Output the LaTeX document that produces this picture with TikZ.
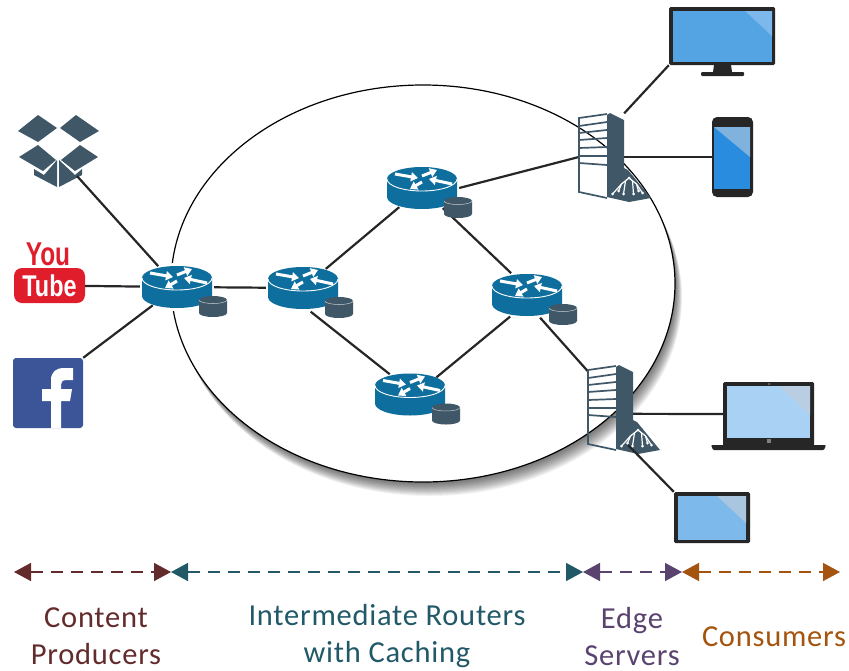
\documentclass[tikz,border=0pt]{standalone}
\usepackage{fontspec}
\usetikzlibrary{arrows.meta, shapes.geometric}
\newfontfamily\capfont[LetterSpace=2.5]{Carlito}
\newfontfamily\tubefont{Liberation Sans}
\definecolor{slate}{RGB}{63, 87, 102}
\definecolor{cisco}{RGB}{14, 110, 158}
\definecolor{frame}{RGB}{38, 38, 38}
\definecolor{tubered}{RGB}{224, 30, 43}
\definecolor{fbblue}{RGB}{59, 85, 152}
\definecolor{prodcol}{RGB}{99, 43, 43}
\definecolor{routcol}{RGB}{33, 89, 104}
\definecolor{edgecol}{RGB}{91, 67, 112}
\definecolor{conscol}{RGB}{165, 84, 15}
\definecolor{monscreen}{RGB}{84, 163, 227}
\definecolor{monglare}{RGB}{125, 184, 236}
\definecolor{phonescreen}{RGB}{42, 140, 223}
\definecolor{phoneglare}{RGB}{127, 178, 221}
\definecolor{lapscreen}{RGB}{169, 209, 243}
\definecolor{lapglare}{RGB}{185, 206, 226}
\definecolor{tabscreen}{RGB}{125, 185, 234}
\definecolor{tabglare}{RGB}{169, 197, 223}
\tikzset{
  halo/.style={ellipse, fill=white, inner sep=0, minimum width=74, minimum height=48},
  link/.style={color=frame, line width=2.2},
  span/.style={line width=1.5, dash pattern=on 12pt off 8pt,
               {Triangle[length=17pt, width=18pt]}-{Triangle[length=17pt, width=18pt]}},
  device/.style={fill=frame, rounded corners=1.5, inner sep=0},
  marker/.style={font=\capfont\fontsize{30.5}{37}\selectfont, align=center},
  router/.pic={
    \fill [color=cisco] (-35, -9) -- (-35, 9) arc[start angle=180, end angle=0, x radius=35, y radius=12]
                        -- (35, -9) arc[start angle=0, end angle=-180, x radius=35, y radius=12] -- cycle;
    \draw [color=white, line width=0.9] (-35, -9) arc[start angle=180, end angle=0, x radius=35, y radius=12];
    \foreach \ax/\ay/\bx/\by in {-27/-14/-4/-10, 0/-6/-12/1, 0/-12/15/-18, 30/-4/7/-9}
      \draw [color=white, line width=3, -{Triangle[length=7pt, width=9pt]}] (\ax, \ay) -- (\bx, \by);
    \fill [color=slate] (22, 13) -- (22, 26) arc[start angle=180, end angle=0, x radius=14, y radius=4]
                        -- (50, 13) arc[start angle=0, end angle=-180, x radius=14, y radius=4] -- cycle;
    \draw [color=white!70!slate, line width=0.5] (22, 13) arc[start angle=180, end angle=0, x radius=14, y radius=3.5];
  },
  server/.pic={
    \draw [color=slate, line width=1.7] (5.5, -43) -- (-22.5, -39) -- (-22.5, 35) -- (5.5, 41);
    \foreach \ly/\ry in {-31/-35, -24/-27, -17/-19, -9/-10, -1/-1, 6/8}
      \draw [color=slate, line width=1.7] (-22.5, \ly) -- (5.5, \ry);
    \fill [color=slate] (5.5, -42) -- (8.5, -44) -- (22.5, -37) -- (22.5, 11) -- (26.5, 13)
                        -- (49.5, 41) -- (27.5, 45) -- (5.5, 40) -- cycle;
    \draw [color=white, line width=1.2] (27.5, 21) -- (20, 27) -- (11, 37);
    \draw [color=white, line width=1.2] (27.5, 21) -- (35, 27) -- (41, 36);
    \draw [color=white, line width=1.2] (24, 24) -- (22, 37);
    \draw [color=white, line width=1.2] (31, 24) -- (32, 37);
    \draw [color=white, line width=1.2] (20, 27) -- (17, 34);
    \draw [color=white, line width=1.2] (35, 27) -- (37, 34);
    \foreach \tx/\ty in {27.5/21, 11/37, 17/34, 22/37, 32/37, 37/34, 41/36}
      \fill [color=white] (\tx, \ty) circle (1.5);
  }
}

\begin{document}
\begin{tikzpicture}[x=1pt, y=-1pt]

  \useasboundingbox (0, 0) rectangle (849, 670);

  % the cloud of caching routers
  \foreach \off in {14, 13, ..., 1}
    \fill [color=black, opacity=0.05] (423+0.5*\off, 283.5+\off) ellipse [x radius=252, y radius=198.5];
  \draw [fill=white, line width=1.2] (423, 283.5) ellipse [x radius=252, y radius=198.5];

  % producers
  \node [rectangle, rounded corners=8, fill=tubered, text=white, minimum width=71, minimum height=35, inner sep=0,
         font=\tubefont\bfseries\fontsize{30}{30}\selectfont] (tube) at (49.5, 285.5) {\scalebox{0.78}[1]{Tube}};
  \node [text=tubered, inner sep=0, font=\tubefont\bfseries\fontsize{33}{33}\selectfont] (you) at (48, 254) {\scalebox{0.74}[1]{You}};
  \node [rectangle, rounded corners=3, fill=fbblue, minimum size=70, inner sep=0] (fbook) at (48, 393) {};
  \coordinate (dropbox) at (77, 176);

  \fill [color=white] (51, 428) -- (51, 401) -- (42, 401) -- (42, 389) -- (51, 389) -- (51, 380)
                      .. controls (51, 372) and (56, 368) .. (64, 368) -- (73, 368) -- (73, 380) -- (67, 380)
                      .. controls (62, 380) and (61, 382) .. (61, 385) -- (61, 389) -- (72, 389) -- (70, 401)
                      -- (61, 401) -- (61, 428) -- cycle;

  \fill [color=slate] (18, 131) -- (38, 115) -- (57, 128) -- (38, 142) -- cycle;
  \fill [color=slate] (60, 128) -- (76, 115) -- (99, 131) -- (80, 142) -- cycle;
  \fill [color=slate] (19, 157) -- (38, 145) -- (56, 160) -- (43, 171) -- cycle;
  \fill [color=slate] (61, 160) -- (80, 145) -- (98, 157) -- (75, 171) -- cycle;
  \fill [color=slate] (34, 169) -- (44, 175) -- (57, 160) -- (57, 187) -- (34, 175) -- cycle;
  \fill [color=slate] (59, 160) -- (75, 175) -- (82, 169) -- (82, 175) -- (59, 187) -- cycle;

  % routers and servers
  \node [inner sep=0, minimum width=45, minimum height=87] (sOne) at (601.5, 157) {};
  \node [inner sep=0, minimum width=45, minimum height=87] (sTwo) at (610.5, 409) {};

  \node [halo] (rOne) at (177, 287) {};
  \node [halo] (rTwo) at (303, 288) {};
  \node [halo] (rThree) at (422, 188) {};
  \node [halo] (rFour) at (527, 295) {};
  \node [halo] (rFive) at (410, 394.5) {};

  % consumers
  \node [device, minimum width=106, minimum height=58] (monitor) at (722, 36) {};
  \node [device, rounded corners=5, minimum width=41, minimum height=80] (phone) at (732.5, 157) {};
  \node [device, minimum width=91, minimum height=64] (laptop) at (768.5, 414) {};
  \node [device, minimum width=76, minimum height=51] (tablet) at (712, 517.5) {};

  \draw [link] (dropbox) -- (rOne);
  \draw [link] (tube) -- (rOne);
  \draw [link] (fbook.north east) -- (rOne);
  \draw [link] (rOne) -- (rTwo);
  \draw [link] (rTwo) -- (rThree);
  \draw [link] (rTwo.-72) -- (rFive.135);
  \draw [link] (rThree.-44) -- (rFour.126);
  \draw [link] (rFive.33) -- (rFour.-128);
  \draw [link] (rThree.east) -- (sOne.west);
  \draw [link] (rFour.-60) -- (sTwo.121);
  \draw [link] (sOne.north east) -- (monitor.south west);
  \draw [link] (sOne.east) -- (phone.west);
  \draw [link] (sTwo.-12.5) -- (laptop.west);

  \foreach \name in {rOne, rTwo, rThree, rFour, rFive}
    \pic at (\name) {router};
  \pic at (sOne) {server};
  \pic at (sTwo) {server};

  \coordinate (tabletStart) at (628, 445);
  \draw [link] (tabletStart) -- (tablet.north west);

  % screens
  \fill [color=frame] (714, 65) -- (731, 65) -- (732, 72) -- (713, 72) -- cycle;
  \fill [color=frame, rounded corners=1] (701, 72) -- (744, 72) -- (744, 76) -- (701, 76) -- cycle;
  \fill [color=monscreen] (673, 11) rectangle (772, 62);
  \fill [color=monglare] (745, 11) -- (772, 11) -- (772, 36) -- cycle;

  \fill [color=phonescreen] (714, 127) rectangle (750, 189);
  \fill [color=phoneglare] (714, 127) -- (750, 127) -- (750, 157) -- cycle;

  \fill [color=frame, rounded corners=1] (711, 445) -- (826, 445) -- (824, 450) -- (713, 450) -- cycle;
  \fill [color=lapscreen] (727, 386) rectangle (810, 438);
  \fill [color=lapglare] (779, 386) -- (810, 386) -- (810, 415) -- cycle;
  \fill [color=gray] (767, 439) rectangle (771, 443);
  \fill [color=gray] (769, 384) circle (1);

  \fill [color=tabscreen] (678, 496) rectangle (746, 540);
  \fill [color=tabglare] (717, 496) -- (746, 496) -- (746, 523) -- cycle;

  % spans along the bottom
  \coordinate (pA) at (14, 572);
  \coordinate (pB) at (171, 572);
  \coordinate (pC) at (583, 572);
  \coordinate (pD) at (682, 572);
  \coordinate (pE) at (840, 572);
  \draw [span, color=prodcol] (pA) -- (pB);
  \draw [span, color=routcol] (pB) -- (pC);
  \draw [span, color=edgecol] (pC) -- (pD);
  \draw [span, color=conscol] (pD) -- (pE);

  \node [marker, text=prodcol] (producers) at (96, 636.5) {Content\\Producers};
  \node [marker, text=routcol] (routers) at (387, 636.5) {Intermediate Routers\\with Caching};
  \node [marker, text=edgecol] (edges) at (632, 636.5) {Edge\\Servers};
  \node [marker, text=conscol] (consumers) at (774, 637) {Consumers};

\end{tikzpicture}
\end{document}
